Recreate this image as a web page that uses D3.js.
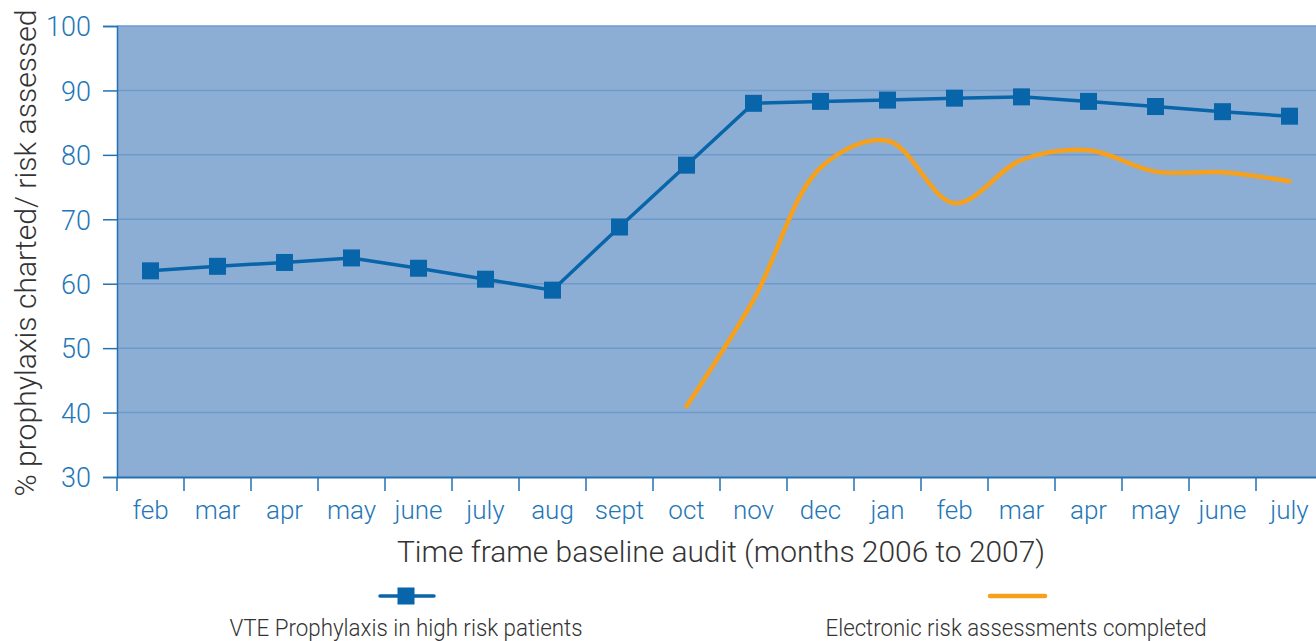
<!DOCTYPE html>
<html><head><meta charset="utf-8">
<script src="https://cdn.jsdelivr.net/npm/d3@7"></script>
<style>body{margin:0;background:#fff;} text{font-family:Roboto, "Liberation Sans", sans-serif;}</style>
</head><body><svg id="c" width="1316" height="641"></svg>
<script>
const months = ["feb","mar","apr","may","june","july","aug","sept","oct","nov","dec","jan","feb","mar","apr","may","june","july"];
const vteValues = [62,62.7,63.3,64,62.4,60.7,59,68.8,78.4,88,88.3,88.5,88.8,89,88.3,87.5,86.7,86];
const eraValues = [null,null,null,null,null,null,null,null,41,57.5,78,82.2,72.5,79.2,80.7,77.4,77.3,75.9];
const yTicks = [30,40,50,60,70,80,90,100];
const seriesNames = ["VTE Prophylaxis in high risk patients","Electronic risk assessments completed"];

const svg = d3.select("#c");
const L=117, T=26, B=477, bw=67, R=L+bw*months.length;
const keys = months.map((m,i)=>i);
const x = d3.scaleBand().domain(keys).range([L,R]);
const y = d3.scaleLinear().domain([30,100]).range([B,T]);
const axisCol="#2271b3", tickTxt="#1f77b8";

svg.append("rect").attr("x",L).attr("y",T).attr("width",R-L).attr("height",B-T).attr("fill","#8caed5");
svg.append("g").selectAll("line").data(yTicks.filter(d=>d>30)).join("line")
  .attr("x1",L).attr("x2",R).attr("y1",d=>y(d)).attr("y2",d=>y(d))
  .attr("stroke","#6d9acb").attr("stroke-width",1.5);

const ya = svg.append("g").attr("transform",`translate(${L},0)`)
  .call(d3.axisLeft(y).tickValues(yTicks).tickSize(14).tickPadding(12));
ya.select(".domain").attr("stroke",axisCol).attr("stroke-width",1.5);
ya.selectAll(".tick line").attr("stroke",axisCol).attr("stroke-width",1.5);
ya.selectAll(".tick text").attr("fill",tickTxt).attr("font-size",27).attr("font-weight",300).attr("dy","0.36em");

const xa = svg.append("g").attr("transform",`translate(0,${B})`)
  .call(d3.axisBottom(x).tickFormat(i=>months[i]).tickSize(0).tickPadding(24));
xa.select(".domain").attr("stroke",axisCol).attr("stroke-width",2);
xa.selectAll(".tick text").attr("fill",tickTxt).attr("font-size",26).attr("font-weight",300);
svg.append("g").selectAll("line").data(keys).join("line")
  .attr("x1",d=>x(d)).attr("x2",d=>x(d)).attr("y1",B).attr("y2",B+14)
  .attr("stroke",axisCol).attr("stroke-width",1.5);

const cx = i=>x(i)+x.bandwidth()/2;
const blue="#0865aa", orange="#f6a01b";
const eraPts = eraValues.map((v,i)=>[i,v]).filter(d=>d[1]!=null);
svg.append("path").datum(eraPts).attr("fill","none").attr("stroke",orange).attr("stroke-width",4.5)
  .attr("stroke-linecap","round")
  .attr("d",d3.line().x(d=>cx(d[0])).y(d=>y(d[1])).curve(d3.curveCatmullRom.alpha(0.5)));
svg.append("path").datum(vteValues).attr("fill","none").attr("stroke",blue).attr("stroke-width",3.5)
  .attr("d",d3.line().x((d,i)=>cx(i)).y(d=>y(d)));
const s=17;
svg.append("g").selectAll("rect").data(vteValues).join("rect")
  .attr("x",(d,i)=>cx(i)-s/2).attr("y",d=>y(d)-s/2).attr("width",s).attr("height",s).attr("fill",blue);

svg.append("text").attr("transform","translate(36,253) rotate(-90)").attr("text-anchor","middle")
  .attr("font-size",30).attr("font-weight",300).attr("fill","#333")
  .attr("textLength",487).attr("lengthAdjust","spacingAndGlyphs").text("% prophylaxis charted/ risk assessed");
svg.append("text").attr("x",721).attr("y",562).attr("text-anchor","middle")
  .attr("font-size",30).attr("font-weight",300).attr("fill","#333")
  .attr("textLength",648).attr("lengthAdjust","spacingAndGlyphs").text("Time frame baseline audit (months 2006 to 2007)");

// legend
svg.append("line").attr("x1",380).attr("x2",434).attr("y1",596).attr("y2",596).attr("stroke",blue).attr("stroke-width",3.5).attr("stroke-linecap","round");
svg.append("rect").attr("x",406-s/2).attr("y",596-s/2).attr("width",s).attr("height",s).attr("fill",blue);
svg.append("line").attr("x1",990).attr("x2",1045).attr("y1",596).attr("y2",596).attr("stroke",orange).attr("stroke-width",4.5).attr("stroke-linecap","round");
svg.append("text").attr("x",406).attr("y",636).attr("text-anchor","middle").attr("font-size",24).attr("font-weight",300).attr("fill","#333")
  .attr("textLength",353).attr("lengthAdjust","spacingAndGlyphs").text(seriesNames[0]);
svg.append("text").attr("x",1016).attr("y",636).attr("text-anchor","middle").attr("font-size",24).attr("font-weight",300).attr("fill","#333")
  .attr("textLength",381).attr("lengthAdjust","spacingAndGlyphs").text(seriesNames[1]);
</script></body></html>
